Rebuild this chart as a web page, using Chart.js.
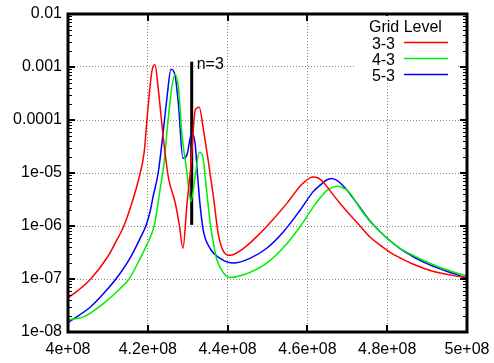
<!DOCTYPE html>
<html lang="en">
<head>
<meta charset="UTF-8">
<title>Grid Level</title>
<script src="https://cdn.jsdelivr.net/npm/chart.js"></script>
<style>
    html, body { margin: 0; padding: 0; background: #fff; }
</style>
</head>
<body>
<canvas id="grafico" width="494" height="363"></canvas>

<script>
    // Grid level 3-3 (red)
    var freq33 = [4.000e8, 4.023e8, 4.057e8, 4.099e8, 4.118e8, 4.140e8, 4.157e8, 4.181e8, 4.191e8, 4.199e8,
                  4.210e8, 4.218e8, 4.226e8, 4.239e8, 4.252e8, 4.268e8, 4.279e8, 4.288e8, 4.298e8, 4.308e8,
                  4.319e8, 4.329e8, 4.339e8, 4.352e8, 4.364e8, 4.377e8, 4.390e8, 4.406e8, 4.440e8, 4.469e8,
                  4.498e8, 4.549e8, 4.582e8, 4.597e8, 4.612e8, 4.627e8, 4.642e8, 4.657e8, 4.682e8, 4.707e8,
                  4.732e8, 4.757e8, 4.783e8, 4.808e8, 4.833e8, 4.858e8, 4.883e8, 4.908e8, 4.933e8, 4.958e8,
                  4.983e8, 5.000e8];
    var resp33 = [4.4e-8, 5.9e-8, 1.0e-7, 2.6e-7, 4.7e-7, 1.0e-6, 2.3e-6, 1.0e-5, 2.5e-5, 1.26e-4,
                  8.1e-4, 1.1e-3, 4.0e-4, 4.5e-5, 7.9e-6, 2.9e-6, 1.05e-6, 3.8e-7, 2.5e-6, 1.4e-5,
                  1.55e-4, 1.74e-4, 6.9e-5, 1.6e-5, 3.8e-6, 6.8e-7, 3.3e-7, 2.8e-7, 3.8e-7, 5.9e-7,
                  9.8e-7, 2.7e-6, 5.7e-6, 7.2e-6, 8.4e-6, 8.05e-6, 6.5e-6, 4.6e-6, 2.66e-6, 1.62e-6,
                  1.0e-6, 6.2e-7, 4.3e-7, 3.16e-7, 2.49e-7, 2.0e-7, 1.68e-7, 1.45e-7, 1.30e-7, 1.19e-7,
                  1.11e-7, 1.09e-7];

    // Grid level 4-3 (green)
    var freq43 = [4.000e8, 4.040e8, 4.090e8, 4.123e8, 4.153e8, 4.181e8, 4.198e8, 4.216e8, 4.223e8, 4.233e8,
                  4.241e8, 4.248e8, 4.260e8, 4.268e8, 4.277e8, 4.285e8, 4.298e8, 4.308e8, 4.319e8, 4.329e8,
                  4.338e8, 4.346e8, 4.356e8, 4.364e8, 4.373e8, 4.390e8, 4.406e8, 4.440e8, 4.498e8, 4.549e8,
                  4.582e8, 4.615e8, 4.632e8, 4.649e8, 4.662e8, 4.675e8, 4.687e8, 4.700e8, 4.712e8, 4.732e8,
                  4.757e8, 4.783e8, 4.808e8, 4.833e8, 4.858e8, 4.883e8, 4.908e8, 4.933e8, 4.958e8, 4.983e8,
                  5.000e8];
    var resp43 = [1.7e-8, 1.95e-8, 3.5e-8, 5.8e-8, 1.0e-7, 2.45e-7, 4.5e-7, 1.0e-6, 2.0e-6, 6.3e-6,
                  1.6e-5, 6.0e-5, 4.0e-4, 7.2e-4, 4.0e-4, 6.0e-5, 1.05e-5, 2.9e-6, 9.1e-6, 2.45e-5,
                  2.0e-5, 5.9e-6, 1.2e-6, 5.0e-7, 2.3e-7, 1.3e-7, 1.07e-7, 1.2e-7, 2.0e-7, 4.7e-7,
                  9.8e-7, 2.3e-6, 3.4e-6, 4.7e-6, 5.3e-6, 5.6e-6, 5.3e-6, 4.7e-6, 3.7e-6, 2.14e-6,
                  1.22e-6, 7.7e-7, 5.2e-7, 3.76e-7, 2.96e-7, 2.38e-7, 1.96e-7, 1.65e-7, 1.42e-7, 1.24e-7,
                  1.14e-7];

    // Grid level 5-3 (blue)
    var freq53 = [4.000e8, 4.057e8, 4.088e8, 4.120e8, 4.157e8, 4.181e8, 4.195e8, 4.206e8, 4.214e8, 4.226e8,
                  4.236e8, 4.248e8, 4.258e8, 4.268e8, 4.277e8, 4.288e8, 4.298e8, 4.310e8, 4.319e8, 4.324e8,
                  4.331e8, 4.339e8, 4.356e8, 4.381e8, 4.415e8, 4.456e8, 4.498e8, 4.540e8, 4.582e8, 4.615e8,
                  4.632e8, 4.647e8, 4.660e8, 4.672e8, 4.690e8, 4.707e8, 4.732e8, 4.757e8, 4.783e8, 4.808e8,
                  4.833e8, 4.858e8, 4.883e8, 4.908e8, 4.933e8, 4.958e8, 4.983e8, 5.000e8];
    var resp53 = [1.51e-8, 3.0e-8, 5.2e-8, 1.0e-7, 2.6e-7, 5.9e-7, 1.0e-6, 1.9e-6, 3.8e-6, 1.0e-5,
                  4.0e-5, 2.6e-4, 9.1e-4, 7.1e-4, 1.9e-4, 1.9e-5, 2.2e-5, 5.6e-5, 3.4e-5, 1.05e-5,
                  2.5e-6, 8.3e-7, 3.8e-7, 2.45e-7, 2.0e-7, 2.45e-7, 3.8e-7, 7.8e-7, 2.0e-6, 4.5e-6,
                  5.9e-6, 7.3e-6, 7.9e-6, 7.4e-6, 5.7e-6, 4.0e-6, 2.23e-6, 1.24e-6, 7.7e-7, 5.2e-7,
                  3.7e-7, 2.84e-7, 2.23e-7, 1.84e-7, 1.55e-7, 1.33e-7, 1.14e-7, 1.0e-7];

    // marker n=3
    var markFreq = [4.310e8, 4.310e8];
    var markResp = [1.05e-6, 1.26e-3];
    var markLabel = 'n=3';

    var seriesLabels = ['3-3', '4-3', '5-3'];
    var legendTitle = 'Grid Level';

    var xTicks = [4.0e8, 4.2e8, 4.4e8, 4.6e8, 4.8e8, 5.0e8];
    var xTickLabels = ['4e+08', '4.2e+08', '4.4e+08', '4.6e+08', '4.8e+08', '5e+08'];
    var yTicks = [1e-8, 1e-7, 1e-6, 1e-5, 1e-4, 1e-3, 1e-2];
    var yTickLabels = ['1e-08', '1e-07', '1e-06', '1e-05', '0.0001', '0.001', '0.01'];

    var fonte = 'Liberation Sans, Arial, sans-serif';

    function pontos(xs, ys) {
        var lista = [];
        for (var i = 0; i < xs.length; i++) {
            lista.push({ x: xs[i], y: ys[i] });
        }
        return lista;
    }

    function linha(label, xs, ys, cor, largura) {
        return {
            label: label,
            data: pontos(xs, ys),
            borderColor: cor,
            backgroundColor: cor,
            borderWidth: largura,
            pointRadius: 0,
            fill: false,
            cubicInterpolationMode: 'monotone'
        };
    }

    // frame, tick marks, marker text and legend
    var extras = {
        id: 'extras',
        afterDraw: function (chart) {
            var ctx = chart.ctx;
            var a = chart.chartArea;
            var x = chart.scales.x;
            var y = chart.scales.y;

            ctx.save();
            ctx.strokeStyle = '#000';
            ctx.lineWidth = 1;

            // minor ticks on y
            for (var d = -8; d < -2; d++) {
                for (var k = 2; k < 10; k++) {
                    var py = Math.round(y.getPixelForValue(k * Math.pow(10, d))) + 0.5;
                    ctx.beginPath();
                    ctx.moveTo(a.left, py); ctx.lineTo(a.left + 4, py);
                    ctx.moveTo(a.right, py); ctx.lineTo(a.right - 4, py);
                    ctx.stroke();
                }
            }
            ctx.lineWidth = 2;
            yTicks.forEach(function (v) {
                var py = Math.round(y.getPixelForValue(v));
                ctx.beginPath();
                ctx.moveTo(a.left, py); ctx.lineTo(a.left + 7, py);
                ctx.moveTo(a.right, py); ctx.lineTo(a.right - 7, py);
                ctx.stroke();
            });
            xTicks.forEach(function (v) {
                var px = Math.round(x.getPixelForValue(v));
                ctx.beginPath();
                ctx.moveTo(px, a.bottom); ctx.lineTo(px, a.bottom - 7);
                ctx.moveTo(px, a.top); ctx.lineTo(px, a.top + 7);
                ctx.stroke();
            });

            // frame
            ctx.lineWidth = 3;
            ctx.strokeRect(a.left, a.top, a.right - a.left, a.bottom - a.top);

            // marker label
            ctx.fillStyle = '#000';
            ctx.font = '16px ' + fonte;
            ctx.textAlign = 'left';
            ctx.textBaseline = 'alphabetic';
            var mx = x.getPixelForValue(markFreq[1]);
            var my = y.getPixelForValue(markResp[1]);
            ctx.fillText(markLabel, mx + 5, my + 7);

            // legend
            ctx.fillStyle = '#fff';
            ctx.fillRect(356, a.top + 2, 100, 64);
            ctx.fillStyle = '#000';
            ctx.fillText(legendTitle, 369, 32);
            ctx.textAlign = 'right';
            for (var i = 0; i < 3; i++) {
                var ds = chart.data.datasets[i];
                var ly = 42.5 + i * 16;
                ctx.fillText(ds.label, 395, ly + 6);
                ctx.strokeStyle = ds.borderColor;
                ctx.lineWidth = 1.5;
                ctx.beginPath();
                ctx.moveTo(404, ly); ctx.lineTo(448, ly);
                ctx.stroke();
            }
            ctx.restore();
        }
    };

    var marcador = linha(markLabel, markFreq, markResp, '#000000', 3);
    marcador.cubicInterpolationMode = 'default';
    marcador.tension = 0;

    var config = {
        type: 'line',
        data: {
            datasets: [
                linha(seriesLabels[0], freq33, resp33, '#ff0000', 1.5),
                linha(seriesLabels[1], freq43, resp43, '#00ee00', 1.5),
                linha(seriesLabels[2], freq53, resp53, '#0000ff', 1.5),
                marcador
            ]
        },
        options: {
            responsive: false,
            animation: false,
            devicePixelRatio: 1,
            layout: { padding: { top: 14, right: 27, left: 0, bottom: 0 } },
            plugins: {
                legend: { display: false },
                tooltip: { enabled: false }
            },
            scales: {
                x: {
                    type: 'linear',
                    min: 4e8,
                    max: 5e8,
                    afterBuildTicks: function (s) {
                        s.ticks = xTicks.map(function (v) { return { value: v }; });
                    },
                    afterFit: function (s) {
                        s.height = 31;
                        s.paddingLeft = 0;
                        s.paddingRight = 0;
                    },
                    ticks: {
                        autoSkip: false,
                        maxRotation: 0,
                        padding: 8,
                        color: '#000',
                        font: { size: 16, family: fonte },
                        callback: function (v, i) { return xTickLabels[i]; }
                    },
                    grid: { color: '#8a8a8a', lineWidth: 1, drawTicks: false },
                    border: { display: false, dash: [1, 2] }
                },
                y: {
                    type: 'logarithmic',
                    min: 1e-8,
                    max: 1e-2,
                    afterBuildTicks: function (s) {
                        s.ticks = yTicks.map(function (v) { return { value: v }; });
                    },
                    afterFit: function (s) {
                        s.width = 68;
                        s.paddingTop = 0;
                        s.paddingBottom = 0;
                    },
                    ticks: {
                        autoSkip: false,
                        padding: 6,
                        color: '#000',
                        font: { size: 16, family: fonte },
                        callback: function (v, i) { return yTickLabels[i]; }
                    },
                    grid: { color: '#8a8a8a', lineWidth: 1, drawTicks: false },
                    border: { display: false, dash: [1, 2] }
                }
            }
        },
        plugins: [extras]
    };

    var ctx = document.getElementById('grafico').getContext('2d');
    var meuGrafico = new Chart(ctx, config);
</script>
</body>
</html>
